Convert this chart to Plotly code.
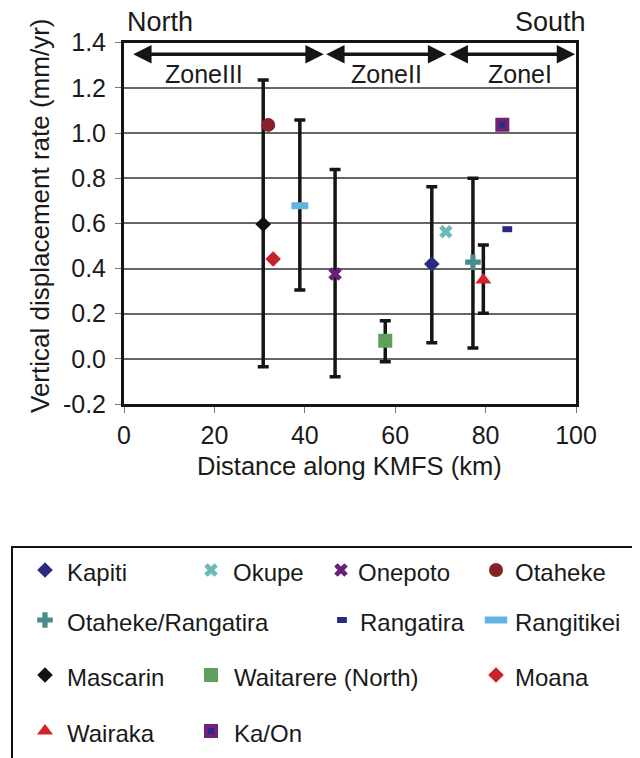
import plotly.graph_objects as go

# figure size (px) - layout below is worked out in pixels and converted to paper units
W, H = 640, 758
OFF = 8  # page body margin that shifts the figure in the browser

# --- data ---
sites = ["Kapiti", "Okupe", "Onepoto", "Otaheke", "Otaheke/Rangatira", "Rangatira",
         "Rangitikei", "Mascarin", "Waitarere (North)", "Moana", "Wairaka", "Ka/On"]
distance_km = [68.1, 71.2, 46.7, 31.9, 77.2, 84.8, 38.9, 30.8, 57.8, 33.0, 79.5, 83.7]
uplift_rate = [0.42, 0.563, 0.376, 1.036, 0.428, 0.574, 0.678, 0.596, 0.080, 0.442, 0.349, 1.037]
# error bar limits (None = no bar)
err_low = [0.071, None, -0.079, None, 0.048, None, 0.305, -0.035, -0.013, None, 0.202, None]
err_high = [0.762, None, 0.839, None, 0.800, None, 1.058, 1.235, 0.169, None, 0.504, None]

x_ticks = [0, 20, 40, 60, 80, 100]
y_ticks = [-0.2, 0.0, 0.2, 0.4, 0.6, 0.8, 1.0, 1.2, 1.4]
y_tick_labels = ["-0.2", "0.0", "0.2", "0.4", "0.6", "0.8", "1.0", "1.2", "1.4"]

zone_names = ["ZoneIII", "ZoneII", "ZoneI"]
zone_start = [1.7, 44.4, 71.7]
zone_end = [44.2, 71.3, 99.8]
zone_label_x = [17.6, 58.0, 87.6]

# marker styles
NAVY = "#2b2a7e"
styles = {
    "Kapiti": dict(symbol="diamond", size=12, color=NAVY),
    "Okupe": dict(symbol="x", size=12, color="#6bbab6"),
    "Onepoto": dict(symbol="x", size=12, color="#6a1f7c"),
    "Otaheke": dict(symbol="circle", size=14, color="#87222b"),
    "Otaheke/Rangatira": dict(symbol="cross", size=13, color="#478c8b"),
    "Rangatira": dict(symbol="line-ew", size=7, color=NAVY, line=dict(color=NAVY, width=6)),
    "Rangitikei": dict(symbol="line-ew", size=12, color="#62b3e2", line=dict(color="#62b3e2", width=7)),
    "Mascarin": dict(symbol="diamond", size=12, color="#111111"),
    "Waitarere (North)": dict(symbol="square", size=14, color="#5e9f5e"),
    "Moana": dict(symbol="diamond", size=12, color="#c8232b"),
    "Wairaka": dict(symbol="triangle-up", size=14, color="#d2232a"),
    "Ka/On": dict(symbol="square", size=10, color=NAVY, line=dict(color="#6e2378", width=4)),
}

# legend placement in pixels: (marker x, text x, row y)
legend_pos = {
    "Kapiti": (45, 65, 570), "Okupe": (211, 231, 570), "Onepoto": (341, 356, 570),
    "Otaheke": (496, 513, 570),
    "Otaheke/Rangatira": (45, 65, 620), "Rangatira": (342, 358, 620),
    "Rangitikei": (496, 513, 620),
    "Mascarin": (45, 65, 675), "Waitarere (North)": (211, 232, 675), "Moana": (496, 513, 675),
    "Wairaka": (45, 65, 731), "Ka/On": (211, 232, 731),
}
legend_overrides = {"Rangitikei": dict(size=16)}

FONT = "Liberation Sans, Arial, sans-serif"
TXT = "#1a1a1a"

# plot area in pixels (as seen on the page)
PL, PR, PT, PB = 124, 576, 42.7, 404


def px(x):
    return (x - OFF) / W


def py(y):
    return 1 - (y - OFF) / H


fig = go.Figure()

# error bars first so the markers sit on top
eb_x, eb_y, eb_plus, eb_minus = [], [], [], []
for d, v, lo, hi in zip(distance_km, uplift_rate, err_low, err_high):
    if lo is None:
        continue
    eb_x.append(d)
    eb_y.append(v)
    eb_plus.append(hi - v)
    eb_minus.append(v - lo)

fig.add_trace(go.Scatter(
    x=eb_x, y=eb_y, mode="markers", marker=dict(size=1, opacity=0),
    error_y=dict(type="data", symmetric=False, array=eb_plus, arrayminus=eb_minus,
                 color="#151515", thickness=3.5, width=5.5),
    showlegend=False, hoverinfo="skip", cliponaxis=False,
))

for name, d, v in zip(sites, distance_km, uplift_rate):
    st = styles[name]
    fig.add_trace(go.Scatter(
        x=[d], y=[v], mode="markers", name=name, showlegend=False,
        marker=dict(symbol=st["symbol"], size=st["size"], color=st["color"],
                    line=st.get("line", dict(width=0))),
        cliponaxis=False,
    ))

# hand-built legend on its own pixel-space axes
for name in sites:
    st = dict(styles[name])
    st.update(legend_overrides.get(name, {}))
    mx, tx, my = legend_pos[name]
    fig.add_trace(go.Scatter(
        x=[mx], y=[my], mode="markers", xaxis="x2", yaxis="y2", showlegend=False,
        hoverinfo="skip",
        marker=dict(symbol=st["symbol"], size=st["size"], color=st["color"],
                    line=st.get("line", dict(width=0))),
    ))
    fig.add_annotation(xref="x2", yref="y2", x=tx, y=my + 2, text=name,
                       showarrow=False, xanchor="left", yanchor="middle",
                       font=dict(family=FONT, size=24, color=TXT))

# legend frame (runs off the right and bottom edges like the original)
fig.add_shape(type="rect", xref="paper", yref="paper",
              x0=px(12), x1=px(W + 20), y0=py(547), y1=py(H + 20),
              line=dict(color="#111111", width=2))

# zone arrows + labels
for zname, z0, z1, zx in zip(zone_names, zone_start, zone_end, zone_label_x):
    fig.add_annotation(x=z1, y=1.349, ax=z0, ay=1.349, xref="x", yref="y",
                       axref="x", ayref="y", text="", showarrow=True,
                       arrowside="end+start", arrowhead=2, arrowsize=1.05,
                       arrowwidth=3.5, arrowcolor="#151515")
    fig.add_annotation(x=zx, y=1.262, xref="x", yref="y", text=zname, showarrow=False,
                       xanchor="center", yanchor="middle",
                       font=dict(family=FONT, size=25, color=TXT))

# North / South
fig.add_annotation(xref="paper", yref="paper", x=px(125), y=py(22), text="North",
                   showarrow=False, xanchor="left", yanchor="middle",
                   font=dict(family=FONT, size=27, color=TXT))
fig.add_annotation(xref="paper", yref="paper", x=px(588), y=py(22), text="South",
                   showarrow=False, xanchor="right", yanchor="middle",
                   font=dict(family=FONT, size=27, color=TXT))

# axis titles
fig.add_annotation(xref="paper", yref="paper", x=px(349), y=py(466),
                   text="Distance along KMFS (km)", showarrow=False,
                   xanchor="center", yanchor="middle",
                   font=dict(family=FONT, size=25.5, color=TXT))
fig.add_annotation(xref="paper", yref="paper", x=px(40), y=py(216),
                   text="Vertical displacement rate (mm/yr)", showarrow=False,
                   xanchor="center", yanchor="middle",
                   textangle=-90, font=dict(family=FONT, size=26, color=TXT))

fig.update_layout(
    width=W, height=H, margin=dict(l=0, r=0, t=0, b=0, autoexpand=False),
    paper_bgcolor="white", plot_bgcolor="rgba(0,0,0,0)", showlegend=False,
    font=dict(family=FONT, size=25, color=TXT),
    xaxis=dict(domain=[px(PL), px(PR)], range=[0, 100], tickvals=x_ticks,
               showgrid=False, zeroline=False, showline=True, mirror=True,
               linecolor="#151515", linewidth=3, ticks="outside", ticklen=6,
               tickcolor="#777777", tickwidth=1, ticklabelstandoff=1,
               tickfont=dict(family=FONT, size=25, color=TXT)),
    yaxis=dict(domain=[py(PB), py(PT)], range=[-0.2, 1.4], tickvals=y_ticks,
               ticktext=y_tick_labels, showgrid=True, gridcolor="#666666",
               gridwidth=1.5, zeroline=False, showline=True, mirror=True,
               linecolor="#151515", linewidth=3, ticks="outside", ticklen=6,
               tickcolor="#777777", tickwidth=1, ticklabelstandoff=4,
               tickfont=dict(family=FONT, size=25, color=TXT)),
    xaxis2=dict(domain=[0, 1], range=[OFF, W + OFF], visible=False, anchor="y2"),
    yaxis2=dict(domain=[0, 1], range=[H + OFF, OFF], visible=False, anchor="x2"),
)

fig.write_html("out.html")
